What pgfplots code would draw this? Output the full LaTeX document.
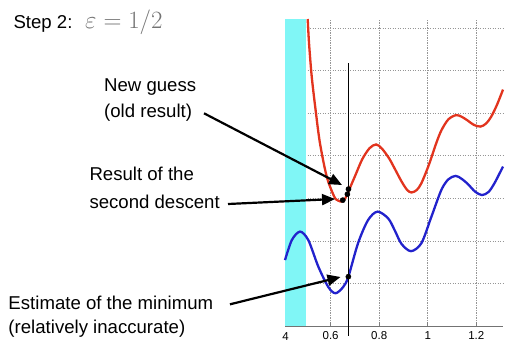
\documentclass[border=0pt]{standalone}
\usepackage{pgfplots}
\pgfplotsset{compat=1.18}
\usepackage{fontspec}
\setmainfont{Liberation Sans}
\usetikzlibrary{arrows.meta}
\definecolor{redc}{RGB}{226,52,30}
\definecolor{bluec}{RGB}{34,34,204}
\definecolor{cyanc}{RGB}{128,246,246}
\definecolor{gridc}{RGB}{150,150,150}
\begin{document}
\begin{tikzpicture}[x=1pt,y=1pt]
\useasboundingbox (0,0) rectangle (505,341);
\begin{axis}[
  at={(285pt,15pt)}, anchor=south west, scale only axis,
  width=218pt, height=307pt,
  xmin=0.412, xmax=1.31, ymin=0, ymax=7.22,
  clip=false,
  axis x line*=bottom, axis y line*=left,
  y axis line style={draw=none},
  x axis line style={-, draw=black!55, line width=0.8pt},
  xtick={0.6,0.8,1,1.2},
  xticklabels={0.6,0.8,1,1.2},
  ytick={1,2,3,4,5,6,7},
  yticklabels={},
  ytick style={draw=none},
  xtick style={draw=black!50, line width=0.6pt},
  tick align=inside,
  major tick length=4pt,
  xmajorgrids, ymajorgrids,
  grid style={gridc, line width=0.9pt, dash pattern=on 1.2pt off 1.3pt},
  /pgf/number format/assume math mode=true,
  xticklabel style={font=\fontsize{11.5}{13}\selectfont, yshift=-2pt},
]
\addplot[fill=cyanc, draw=none] coordinates {(0.412,7.22) (0.5,7.22)} \closedcycle;

\addplot[redc, line width=2.3pt, smooth, tension=0.5] coordinates {
(0.5055,7.22) (0.511,6.65) (0.522,5.87) (0.538,5.08) (0.556,4.30)
(0.584,3.51) (0.615,3.04) (0.631,2.95) (0.645,2.93) (0.660,3.00)
(0.672,3.15) (0.700,3.52) (0.730,3.92) (0.760,4.18) (0.787,4.27)
(0.810,4.18) (0.840,3.95) (0.864,3.70) (0.892,3.40) (0.915,3.20)
(0.933,3.14) (0.955,3.20) (0.974,3.36) (1.000,3.72) (1.015,3.96)
(1.035,4.30) (1.056,4.60) (1.085,4.86) (1.117,4.96) (1.140,4.92)
(1.165,4.83) (1.190,4.73) (1.217,4.69) (1.240,4.76) (1.261,4.92)
(1.285,5.20) (1.310,5.56)};

\addplot[bluec, line width=2.3pt, smooth, tension=0.5] coordinates {
(0.412,1.55) (0.440,2.02) (0.474,2.22) (0.508,2.02) (0.549,1.40)
(0.590,0.92) (0.620,0.77) (0.652,0.92) (0.673,1.16) (0.713,1.95)
(0.754,2.49) (0.793,2.69) (0.837,2.53) (0.864,2.25) (0.892,1.93)
(0.931,1.76) (0.974,1.95) (1.015,2.57) (1.056,3.20) (1.085,3.45)
(1.115,3.53) (1.140,3.46) (1.165,3.34) (1.195,3.16) (1.223,3.08)
(1.250,3.15) (1.275,3.36) (1.310,3.75)};

\addplot[black, line width=0.8pt] coordinates {(0.673,-0.235) (0.673,6.19)};

\addplot[only marks, mark=*, mark size=2.6pt, black] coordinates {
(0.673,1.16) (0.650,2.96) (0.669,3.10) (0.6735,3.22)};

\node[anchor=base, font=\fontsize{11.5}{13}\selectfont] at (axis cs:0.4145,0) [yshift=-14pt] {4};
\end{axis}

\node[anchor=base west, inner sep=0pt, font=\fontsize{18.6}{22}\selectfont] at (13.3,312.7) {Step 2:};
\node[anchor=base west, inner sep=0pt, text=black!55, font=\fontsize{26}{30}\selectfont] at (85,312.7) {$\varepsilon = 1/2$};

\begin{scope}[every node/.style={anchor=base west, inner sep=0pt, font=\fontsize{18.6}{22}\selectfont}]
\node at (104,250) {New guess};
\node at (104,223.7) {(old result)};
\node at (89.3,160.3) {Result of the};
\node at (89.3,132.7) {second descent};
\node at (8.3,31.7) {Estimate of the minimum};
\node at (8.3,7.5) {(relatively inaccurate)};
\end{scope}

\begin{scope}[line width=2.2pt, -{Triangle[length=13pt,width=11pt]}]
\draw (204,227.7) -- (342,156);
\draw (228,137) -- (335,142);
\draw (230,36.7) -- (340.5,64);
\end{scope}
\end{tikzpicture}
\end{document}
